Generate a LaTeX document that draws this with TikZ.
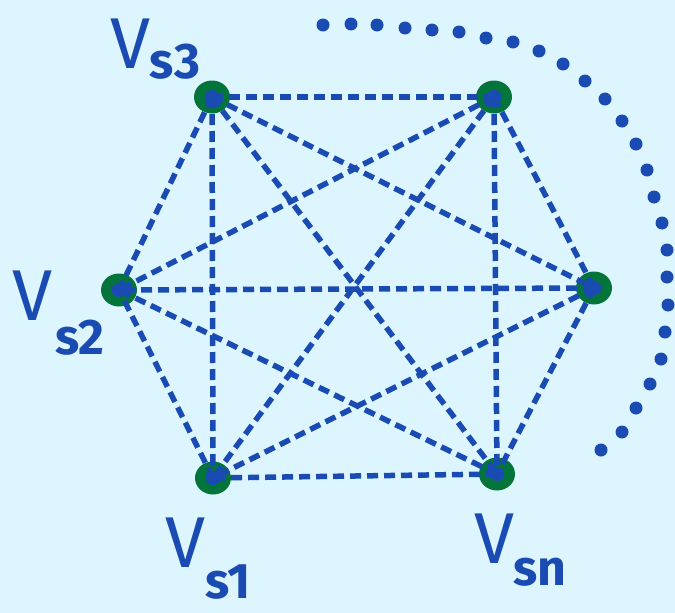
\documentclass[tikz,border=0pt]{standalone}
\usepackage{fontspec}
\setmainfont{Fira Sans}
\usetikzlibrary{shapes.geometric}
\definecolor{bg}{HTML}{DDF5FE}
\definecolor{ink}{HTML}{1A4BB3}
\definecolor{leaf}{HTML}{04753A}
\tikzset{
  vtx/.style={ellipse, fill=leaf, minimum width=36pt, minimum height=33pt, inner sep=0pt},
  core/.style={ellipse, fill=ink, minimum width=15pt, minimum height=14pt, inner sep=0pt},
  edge/.style={ink, line width=5.5pt, dash pattern=on 11pt off 6pt},
  dotc/.style={circle, fill=ink, minimum size=13pt, inner sep=0pt},
  bigV/.style={text=ink, font=\fontsize{72}{72}\selectfont, inner sep=0pt},
  subs/.style={text=ink, font=\bfseries\fontsize{50}{50}\selectfont, inner sep=0pt}
}
\begin{document}
\begin{tikzpicture}[x=1pt,y=-1pt]
\fill[bg] (0,0) rectangle (675,613);
\useasboundingbox (0,0) rectangle (675,613);
% vertices
\node[vtx] (a) at (212,97) {};
\node[vtx] (b) at (494,97) {};
\node[vtx] (c) at (594,288) {};
\node[vtx] (d) at (497,474) {};
\node[vtx] (e) at (213,478) {};
\node[vtx] (f) at (119,290) {};
% edges
\foreach \p/\q in {a/b,a/c,a/d,a/e,a/f,b/c,b/d,b/e,b/f,c/d,c/e,c/f,d/e,d/f,e/f}
  \draw[edge] (\p.center) -- (\q.center);
\foreach \p in {a,b,c,d,e,f}
  \node[core] (\p c) at (\p.center) {};
% dotted arc
\foreach \i/\x/\y in {1/323/25,2/351/24,3/377/25,4/405/28,5/432/30,6/459/32,7/486/38,8/513/42,9/539/51,10/563/64,11/585/81,12/605/99,13/622/121,14/636/144,15/647/170,16/654/197,17/662/223,18/667/250,19/667/277,20/668/305,21/665/332,22/661/359,23/650/384,24/636/408,25/622/432,26/601/450}
  \node[dotc] (dot\i) at (\x,\y) {};
% labels
\node[bigV] (v3) at (131,44) {V};
\node[subs] (s3) at (175,62) {s3};
\node[bigV] (v2) at (33,296) {V};
\node[subs] (s2) at (80,338) {s2};
\node[bigV] (v1) at (186,543) {V};
\node[subs] (s1) at (228,582) {s1};
\node[bigV] (vn) at (495,539) {V};
\node[subs] (sn) at (540,572) {sn};
\end{tikzpicture}
\end{document}
